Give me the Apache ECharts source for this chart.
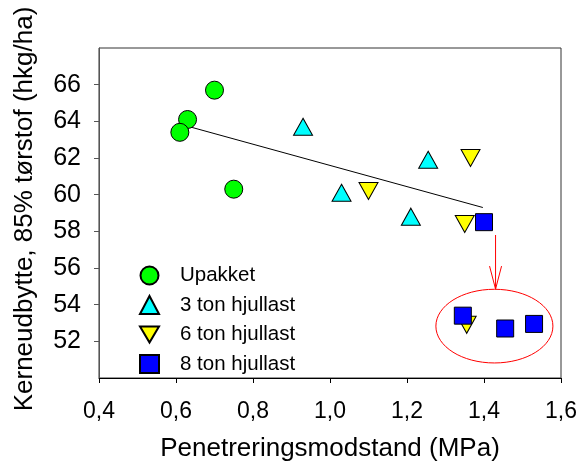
<!DOCTYPE html>
<html><head><meta charset="utf-8">
<script src="https://cdn.jsdelivr.net/npm/echarts@6/dist/echarts.min.js"></script>
<style>html,body{margin:0;padding:0;background:#fff}#c{width:583px;height:467px}</style>
</head><body><div id="c"></div>
<script>
const seriesNames = ['Upakket', '3 ton hjullast', '6 ton hjullast', '8 ton hjullast'];
const upakket = [[0.70, 65.7], [0.63, 64.1], [0.61, 63.4], [0.75, 60.3]];
const ton3 = [[0.93, 63.7], [1.03, 60.1], [1.255, 61.9], [1.21, 58.8]];
const ton6 = [[1.10, 60.2], [1.365, 62.0], [1.35, 58.4], [1.355, 52.9]];
const ton8 = [[1.40, 58.5], [1.345, 53.4], [1.455, 52.7], [1.53, 52.95]];
const trendLine = [[0.636, 63.7], [1.397, 59.3]];
const xTickValues = [0.4, 0.6, 0.8, 1.0, 1.2, 1.4, 1.6];
const yTickValues = [52, 54, 56, 58, 60, 62, 64, 66];
const arrowLine = [[1.43, 57.8], [1.43, 54.85]];
const ellipseCenter = [1.427, 52.83];
const ellipseRadius = [0.152, 2.01];

const FONT = "'Liberation Sans', Arial, sans-serif";
const DOWN_TRI = 'path://M0,0 L20,0 L10,17 Z';
const chart = echarts.init(document.getElementById('c'), null, {renderer: 'canvas'});

function scatter(name, data, symbol, size, color, rotate) {
  return {
    name, type: 'scatter', data, symbol, symbolSize: size, symbolRotate: rotate || 0,
    itemStyle: {color, borderColor: '#000', borderWidth: 1, opacity: 1},
    emphasis: {disabled: true}, z: 3
  };
}

chart.setOption({
  animation: false,
  backgroundColor: '#fff',
  grid: {left: 99, right: 22, top: 48, bottom: 87, show: true, borderColor: '#333', borderWidth: 1, backgroundColor: 'transparent'},
  xAxis: {
    type: 'value', min: 0.4, max: 1.6, interval: 0.2,
    name: 'Penetreringsmodstand (MPa)', nameLocation: 'middle', nameGap: 58,
    nameTextStyle: {fontFamily: FONT, fontSize: 26, color: '#000'},
    axisLine: {show: true, lineStyle: {color: '#000', width: 1}},
    axisTick: {show: true, inside: false, length: 5, lineStyle: {color: '#000'}, customValues: xTickValues},
    axisLabel: {fontFamily: FONT, fontSize: 23, color: '#000', margin: 22, customValues: xTickValues,
      formatter: v => v.toFixed(1).replace('.', ',')},
    splitLine: {show: false}
  },
  yAxis: {
    type: 'value', min: 50, max: 68, interval: 2,
    name: 'Kerneudbytte, 85% tørstof (hkg/ha)', nameLocation: 'middle', nameGap: 61,
    nameTextStyle: {fontFamily: FONT, fontSize: 26, color: '#000', padding: [0, 0, 0, 8]},
    axisLine: {show: true, lineStyle: {color: '#555', width: 1}},
    axisTick: {show: true, inside: false, length: 5, lineStyle: {color: '#555'}, customValues: yTickValues},
    axisLabel: {fontFamily: FONT, fontSize: 25, color: '#000', margin: 18, customValues: yTickValues},
    splitLine: {show: false}
  },
  legend: {
    data: [
      {name: seriesNames[0]},
      {name: seriesNames[1]},
      {name: seriesNames[2], icon: DOWN_TRI},
      {name: seriesNames[3]}
    ],
    orient: 'vertical', left: 134, top: 260,
    itemWidth: 19, itemHeight: 18, itemGap: 8.5,
    textStyle: {fontFamily: FONT, fontSize: 20.5, color: '#000', padding: [0, 0, 0, 16]},
    selectedMode: false
  },
  series: [
    {type: 'line', data: trendLine, symbol: 'none', lineStyle: {color: '#000', width: 1}, z: 2, silent: true},
    scatter(seriesNames[0], upakket, 'circle', 18, '#00ff00'),
    scatter(seriesNames[1], ton3, 'triangle', [19, 17], '#00ffff'),
    scatter(seriesNames[2], ton6, 'triangle', [19, 17], '#ffff00', 180),
    scatter(seriesNames[3], ton8, 'rect', 17, '#0000ff'),
    {
      type: 'custom', silent: true, z: 4, clip: false,
      data: [ellipseCenter],
      encode: {x: 0, y: 1},
      renderItem: function (params, api) {
        const a = api.coord(arrowLine[0]);
        const b = api.coord(arrowLine[1]);
        const c = api.coord(ellipseCenter);
        const r = api.size(ellipseRadius);
        const st = {stroke: '#ff0000', lineWidth: 1, fill: null};
        return {
          type: 'group',
          children: [
            {type: 'line', shape: {x1: a[0], y1: a[1], x2: b[0], y2: b[1]}, style: st},
            {type: 'polyline', shape: {points: [[b[0] - 6, b[1] - 23], [b[0], b[1]], [b[0] + 6, b[1] - 23]]}, style: st},
            {type: 'ellipse', shape: {cx: c[0], cy: c[1], rx: r[0], ry: r[1]}, style: st}
          ]
        };
      }
    }
  ]
});
</script></body></html>
